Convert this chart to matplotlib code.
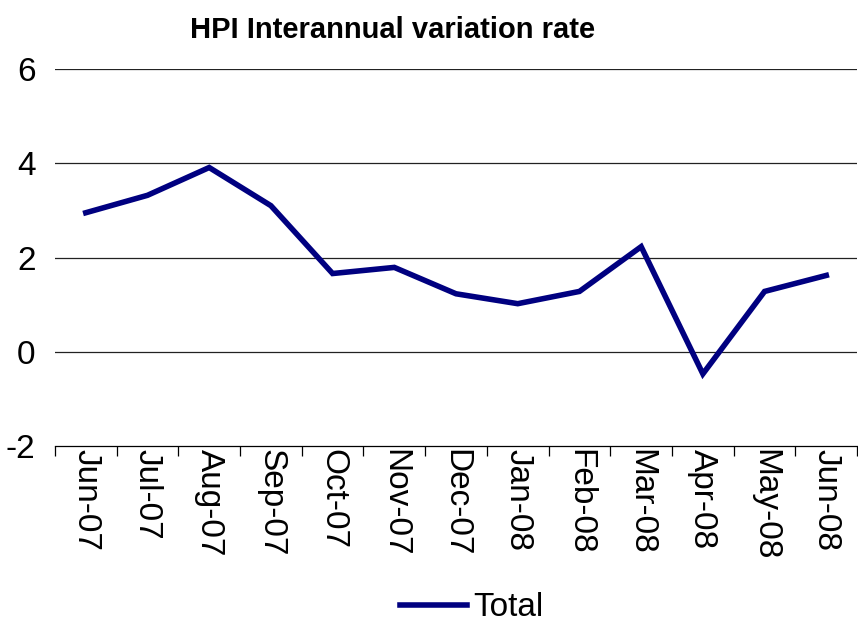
import matplotlib.pyplot as plt
import numpy as np

plt.rcParams['font.family'] = ['Liberation Sans', 'DejaVu Sans']

# Data
months = ['Jun-07', 'Jul-07', 'Aug-07', 'Sep-07', 'Oct-07', 'Nov-07', 'Dec-07',
          'Jan-08', 'Feb-08', 'Mar-08', 'Apr-08', 'May-08', 'Jun-08']
total = [2.95, 3.32, 3.91, 3.10, 1.66, 1.79, 1.23, 1.02, 1.28, 2.23, -0.47, 1.28, 1.62]
yticks = [-2, 0, 2, 4, 6]

fig = plt.figure(figsize=(8.58, 6.22), dpi=100)
ax = fig.add_axes([0.064, 0.283, 0.935, 0.606])

x = np.arange(len(months))
ax.plot(x, total, color='#000080', linewidth=4, solid_joinstyle='miter', label='Total')

ax.set_xlim(-0.5, len(months) - 0.5)
ax.set_ylim(-2, 6)
ax.set_yticks(yticks)
ax.set_yticklabels([str(v) for v in yticks], fontsize=24)
for v in yticks[1:]:
    ax.axhline(v, color='#222222', linewidth=0.9, zorder=0)

ax.set_xticks(x)
ax.set_xticklabels(months, rotation=270, fontsize=24, va='top', ha='center')
ax.set_xticks(np.arange(-0.5, len(months)), minor=True)
ax.tick_params(axis='x', which='major', length=0, pad=2)
ax.tick_params(axis='x', which='minor', length=7, width=0.9, direction='out')
ax.tick_params(axis='y', length=0, pad=14)

for s in ['top', 'right', 'left']:
    ax.spines[s].set_visible(False)
ax.spines['bottom'].set_linewidth(0.9)

fig.text(393 / 858, 1 - 30 / 622, 'HPI Interannual variation rate', fontsize=21,
         fontweight='bold', ha='center', va='center')

fig.legend(loc='center', bbox_to_anchor=(472 / 858, 1 - 608 / 622), frameon=False,
           fontsize=24, handlelength=2.0, handletextpad=0.2)

fig.savefig('out.png', dpi=100)
